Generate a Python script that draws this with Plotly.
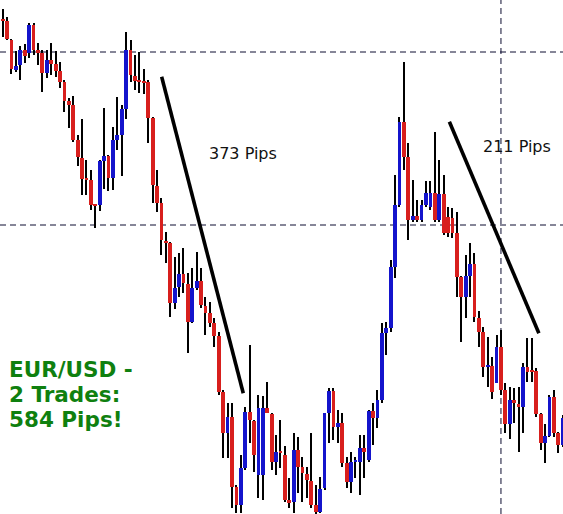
import plotly.graph_objects as go

# Quotes x 10^4 (EUR/USD), one entry per candle
open_q = [14400,14399,14380,14350,14355,14370,14367,14395,14370,14367,
          14347,14360,14356,14349,14338,14319,14315,14280,14262,14242,
          14240,14215,14215,14259,14264,14242,14280,14285,14311,14370,
          14344,14339,14338,14338,14302,14234,14217,14179,14177,14117,
          14133,14146,14136,14098,14132,14139,14114,14107,14097,14084,
          14028,13987,14003,13933,13915,13952,14008,13999,13945,13945,
          14012,14006,13958,13968,13965,13920,13918,13970,13953,13946,
          13939,13915,13908,13932,14007,14029,13993,13997,13957,13938,
          13958,13958,13972,13960,14009,14002,14020,14087,14092,14153,
          14215,14298,14263,14200,14204,14200,14215,14213,14227,14200,
          14226,14203,14202,14187,14143,14123,14144,14156,14102,14088,
          14053,14054,14037,14073,14030,13996,14020,14016,14013,14053,
          14049,14049,14006,13977,13984,14023,13987,13975]
high_q = [14411,14403,14381,14369,14374,14376,14397,14397,14377,14370,
          14370,14377,14369,14358,14340,14322,14324,14285,14301,14260,
          14250,14216,14260,14312,14265,14293,14323,14315,14388,14380,
          14365,14368,14351,14340,14303,14250,14222,14188,14178,14163,
          14167,14172,14147,14152,14168,14152,14123,14118,14102,14088,
          14030,14017,14017,13935,13965,14013,14075,14000,14025,14024,
          14038,14007,13985,14000,13974,13942,13987,13983,13963,13953,
          13987,13935,13943,14007,14032,14032,14010,14007,13963,13968,
          13963,13985,13985,14010,14017,14030,14097,14098,14160,14245,
          14303,14358,14277,14240,14220,14220,14239,14239,14288,14260,
          14245,14213,14212,14208,14144,14165,14177,14167,14109,14093,
          14083,14063,14085,14090,14037,14033,14032,14033,14057,14082,
          14082,14052,14007,13996,14025,14030,13988,14005]
low_q = [14383,14380,14346,14348,14340,14357,14362,14365,14355,14328,
         14342,14345,14343,14332,14308,14292,14278,14254,14225,14225,
         14210,14192,14209,14231,14229,14230,14270,14244,14301,14338,
         14330,14327,14326,14277,14217,14208,14165,14157,14103,14111,
         14123,14127,14067,14097,14130,14112,14085,14093,14073,14025,
         13962,13962,13912,13907,13907,13950,13977,13948,13922,13920,
         14007,13950,13945,13952,13918,13912,13907,13927,13918,13922,
         13912,13906,13907,13930,13977,13980,13977,13953,13932,13927,
         13942,13925,13942,13958,13975,13992,14017,14065,14088,14142,
         14213,14250,14180,14198,14198,14198,14213,14210,14198,14198,
         14185,14183,14182,14123,14078,14102,14123,14098,14073,14043,
         14033,14021,14037,14025,13987,13981,13997,13968,13987,14038,
         14038,14003,13970,13957,13983,13983,13967,13973]
close_q = [14399,14381,14351,14354,14370,14364,14395,14370,14367,14347,
           14360,14356,14349,14338,14319,14315,14280,14263,14241,14240,
           14215,14214,14259,14264,14242,14280,14285,14311,14370,14345,
           14339,14338,14337,14302,14235,14217,14180,14177,14117,14132,
           14146,14137,14098,14132,14139,14115,14107,14097,14084,14028,
           13987,14003,13933,13915,13952,14008,14000,13965,14012,14012,
           14007,13958,13968,13967,13920,13917,13970,13953,13947,13940,
           13915,13908,13931,14007,14029,13993,13997,13957,13938,13958,
           13959,13972,13968,14009,14002,14020,14087,14092,14153,14215,
           14298,14263,14200,14204,14200,14215,14227,14227,14200,14226,
           14187,14187,14187,14143,14123,14144,14156,14103,14088,14053,
           14054,14028,14073,14030,13996,14020,14017,14013,14053,14048,
           14048,14006,13977,13984,14023,13987,13975,14002]

# Reference levels (crosshair) and trend lines
h_levels = [1.4368, 1.4195]
v_level_bar = 113
trend1_x = [36.05, 54.56]
trend1_y = [1.43433, 1.40267]
trend2_x = [101.3, 121.6]
trend2_y = [1.42983, 1.40867]

pip_labels = ["373 Pips", "211 Pips"]
pip_label_x = [54.5, 116.6]
pip_label_y = [1.4267, 1.4274]
title_lines = ["EUR/USD -", "2 Trades:", "584 Pips!"]

SCALE = 10000.0
O = [v / SCALE for v in open_q]
H = [v / SCALE for v in high_q]
L = [v / SCALE for v in low_q]
C = [v / SCALE for v in close_q]
X = list(range(len(O)))

RED = "#d81f1d"
BLUE = "#1414cc"

fig = go.Figure()

# wicks (bars, so they sit under the bodies)
fig.add_trace(go.Bar(x=X, y=[H[i] - L[i] for i in X], base=L, width=0.25,
                     marker=dict(color="#000000", line=dict(width=0)),
                     hoverinfo="skip"))

# bodies
for up, col in [(False, RED), (True, BLUE)]:
    bx, bbase, bh = [], [], []
    for i in X:
        is_up = C[i] > O[i]
        if is_up != up:
            continue
        bx.append(i)
        bbase.append(min(O[i], C[i]))
        bh.append(max(abs(C[i] - O[i]), 0.00012))
    fig.add_trace(go.Bar(x=bx, y=bh, base=bbase, width=0.86,
                         marker=dict(color=col, line=dict(width=0)),
                         hoverinfo="skip"))

# trend lines
for tx, ty in [(trend1_x, trend1_y), (trend2_x, trend2_y)]:
    fig.add_trace(go.Scatter(x=tx, y=ty, mode="lines",
                             line=dict(color="#000000", width=3.6), hoverinfo="skip"))

shapes = []
for lv in h_levels:
    shapes.append(dict(type="line", xref="paper", x0=0, x1=1, yref="y", y0=lv, y1=lv,
                       line=dict(color="#0c0c30", width=1, dash="6px,4px"), layer="below"))
shapes.append(dict(type="line", xref="x", x0=v_level_bar, x1=v_level_bar, yref="paper", y0=0, y1=1,
                   line=dict(color="#0c0c30", width=1, dash="6px,4px"), layer="below"))

annotations = []
for t, ax, ay in zip(pip_labels, pip_label_x, pip_label_y):
    annotations.append(dict(text=t, x=ax, y=ay, xref="x", yref="y", showarrow=False,
                            xanchor="center", yanchor="middle",
                            font=dict(family="DejaVu Sans", size=16, color="#111111")))
W, Hh = 563, 514
for k, t in enumerate(title_lines):
    py = 369 + 25.3 * k
    annotations.append(dict(text="<b>" + t + "</b>", x=7 / W, y=1 - py / Hh,
                            xref="paper", yref="paper", showarrow=False,
                            xanchor="left", yanchor="middle",
                            font=dict(family="DejaVu Sans", size=21.5, color="#0f800f")))

fig.update_layout(
    width=W, height=Hh,
    margin=dict(l=0, r=0, t=0, b=0),
    paper_bgcolor="white", plot_bgcolor="white",
    showlegend=False, barmode="overlay", bargap=0,
    xaxis=dict(visible=False, range=[-0.61, 127.07], fixedrange=True),
    yaxis=dict(visible=False, range=[1.3906, 1.4420], fixedrange=True),
    shapes=shapes, annotations=annotations,
    hovermode=False,
)

fig.write_html("out.html", config={"displayModeBar": False},
               post_script="document.body.style.margin='0';document.body.style.overflow='hidden';")
